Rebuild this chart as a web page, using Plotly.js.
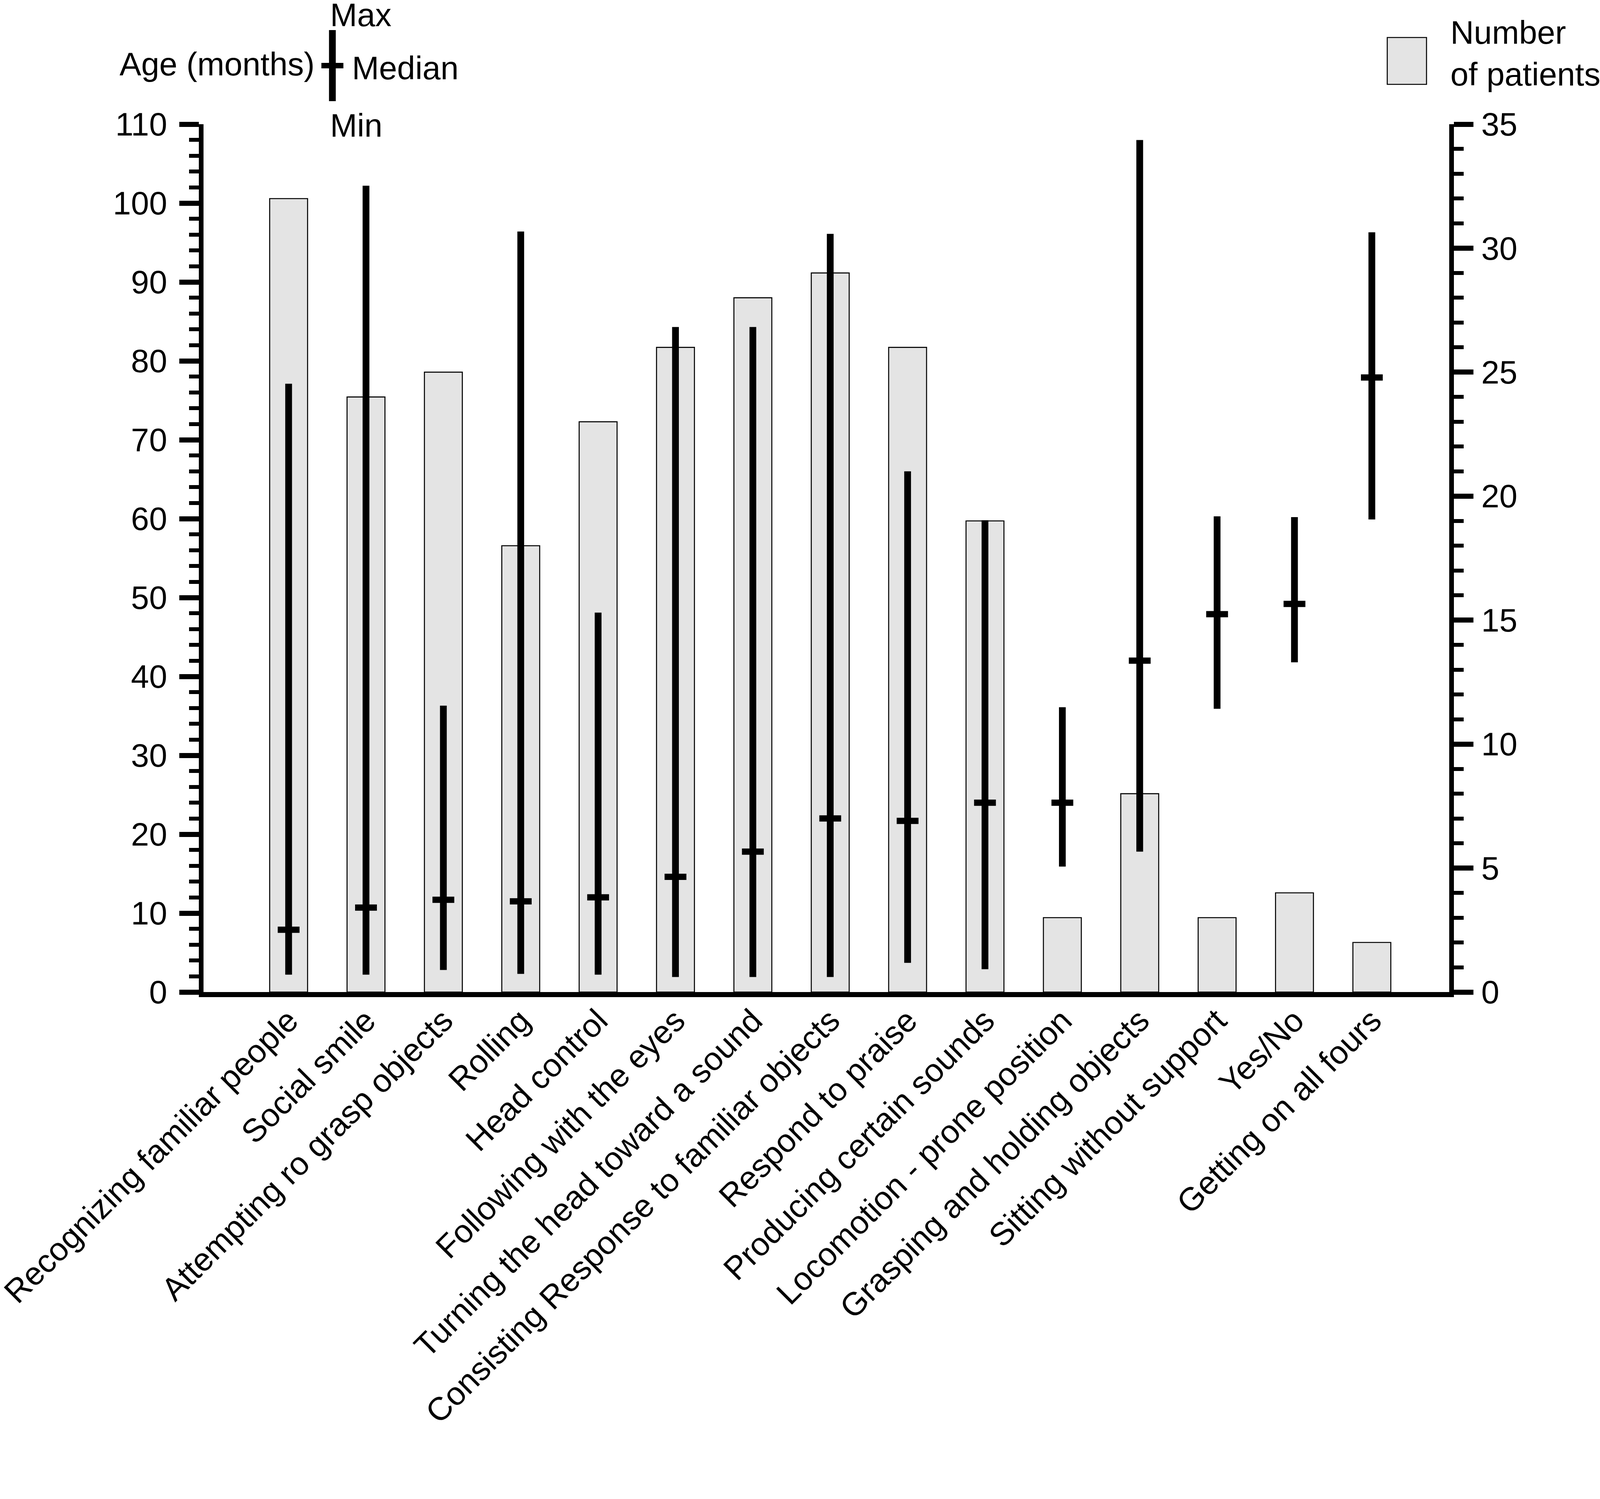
<!DOCTYPE html>
<html>
<head>
<meta charset="utf-8">
<script src="https://cdn.plot.ly/plotly-3.0.1.min.js"></script>
<style>
  html, body { margin: 0; padding: 0; background: #fff; overflow: hidden; }
</style>
</head>
<body>
<div id="chart"></div>
<script>
// milestones on the x axis
var categories = [
  "Recognizing familiar people",
  "Social smile",
  "Attempting ro grasp objects",
  "Rolling",
  "Head control",
  "Following with the eyes",
  "Turning the head toward a sound",
  "Consisting Response to familiar objects",
  "Respond to praise",
  "Producing certain sounds",
  "Locomotion - prone position",
  "Grasping and holding objects",
  "Sitting without support",
  "Yes/No",
  "Getting on all fours"
];

// number of patients (right axis)
var patients = [32, 24, 25, 18, 23, 26, 28, 29, 26, 19, 3, 8, 3, 4, 2];

// age in months (left axis)
var ageMin    = [2.2, 2.2, 2.8, 2.3, 2.2, 1.9, 1.9, 1.9, 3.7, 2.9, 15.9, 17.8, 35.9, 41.8, 59.9];
var ageMedian = [7.9, 10.7, 11.7, 11.5, 12.0, 14.6, 17.8, 22.0, 21.7, 24.0, 24.0, 42.0, 47.9, 49.2, 77.9];
var ageMax    = [77.1, 102.2, 36.3, 96.4, 48.1, 84.3, 84.3, 96.1, 66.0, 59.8, 36.1, 108.0, 60.3, 60.2, 96.3];

var ageTicks = [0, 10, 20, 30, 40, 50, 60, 70, 80, 90, 100, 110];
var patientTicks = [0, 5, 10, 15, 20, 25, 30, 35];

// laid out for a 4724 x 3838 canvas, then stretched to whatever the window is
var sx = window.innerWidth / 4724;
var sy = window.innerHeight / 3838;
var sf = Math.min(sx, sy);          // fonts
function X(v) { return v * sx; }
function Y(v) { return v * sy; }

// plot area in (unscaled) pixels, used to place the hand made legend
var L = 601, R = 4279, T = 318, B = 2540;
function px(x) { return (x - L) / (R - L); }
function py(y) { return (B - y) / (B - T); }

var upper = ageMax.map(function (v, i) { return v - ageMedian[i]; });
var lower = ageMedian.map(function (v, i) { return v - ageMin[i]; });

var fontFam = "Liberation Sans, Arial, sans-serif";
var fs = 96 * sf;

var bars = {
  type: 'bar',
  x: categories,
  y: patients,
  yaxis: 'y',
  marker: { color: '#e4e4e4', line: { color: 'black', width: 3 * sf } },
  showlegend: false,
  hoverinfo: 'x+y'
};

var ages = {
  type: 'scatter',
  mode: 'markers',
  x: categories,
  y: ageMedian,
  yaxis: 'y2',
  marker: { symbol: 'line-ew', size: X(46), color: 'black', line: { color: 'black', width: Y(16) } },
  error_y: {
    type: 'data', symmetric: false,
    array: upper, arrayminus: lower,
    color: 'black', thickness: X(20), width: 0
  },
  showlegend: false
};

var axisStyle = {
  showline: true, linecolor: 'black', linewidth: X(14),
  ticks: 'outside', ticklen: X(58), tickwidth: Y(13), tickcolor: 'black',
  showgrid: false, zeroline: false, automargin: false,
  tickfont: { size: fs, color: 'black', family: fontFam }
};

var layout = {
  width: X(4724),
  height: Y(3838),
  margin: { l: X(L), r: X(4724 - R), t: Y(T), b: Y(3838 - B), pad: 0 },
  paper_bgcolor: 'white',
  plot_bgcolor: 'white',
  font: { family: fontFam, size: fs, color: 'black' },
  bargap: 0.51,
  xaxis: {
    type: 'category', range: [-1.1, 15],
    showline: true, linecolor: 'black', linewidth: Y(13),
    ticks: '', tickangle: -45, showgrid: false, zeroline: false, automargin: false,
    ticklabelstandoff: Math.round(Y(-22)),
    tickfont: { size: fs, color: 'black', family: fontFam }
  },
  yaxis: Object.assign({}, axisStyle, {
    side: 'right', range: [0, 35], tickvals: patientTicks,
    ticklabelstandoff: Math.round(X(4)),
    minor: { tickmode: 'linear', tick0: 0, dtick: 1, ticks: 'outside', ticklen: X(29), tickwidth: Y(10), tickcolor: 'black', showgrid: false }
  }),
  yaxis2: Object.assign({}, axisStyle, {
    side: 'left', overlaying: 'y', range: [0, 110], tickvals: ageTicks,
    ticklabelstandoff: Math.round(X(16)),
    minor: { tickmode: 'linear', tick0: 0, dtick: 2, ticks: 'outside', ticklen: X(29), tickwidth: Y(10), tickcolor: 'black', showgrid: false }
  }),
  shapes: [
    // age legend symbol
    { type: 'line', xref: 'paper', yref: 'paper', x0: px(981.5), x1: px(981.5), y0: py(77), y1: py(259), line: { color: 'black', width: X(20) } },
    { type: 'line', xref: 'paper', yref: 'paper', x0: px(949), x1: px(1014), y0: py(168), y1: py(168), line: { color: 'black', width: Y(14) } },
    // patients legend box
    { type: 'rect', xref: 'paper', yref: 'paper', x0: px(4096), x1: px(4212), y0: py(96), y1: py(216), fillcolor: '#e4e4e4', line: { color: 'black', width: 3 * sf } }
  ],
  annotations: [
    { xref: 'paper', yref: 'paper', x: px(932), y: py(165), xanchor: 'right', yanchor: 'middle', text: 'Age (months)', showarrow: false },
    { xref: 'paper', yref: 'paper', x: px(972), y: py(38), xanchor: 'left', yanchor: 'middle', text: 'Max', showarrow: false },
    { xref: 'paper', yref: 'paper', x: px(1037), y: py(175), xanchor: 'left', yanchor: 'middle', text: 'Median', showarrow: false },
    { xref: 'paper', yref: 'paper', x: px(972), y: py(321), xanchor: 'left', yanchor: 'middle', text: 'Min', showarrow: false },
    { xref: 'paper', yref: 'paper', x: px(4280), y: py(83), xanchor: 'left', yanchor: 'middle', text: 'Number', showarrow: false },
    { xref: 'paper', yref: 'paper', x: px(4280), y: py(191), xanchor: 'left', yanchor: 'middle', text: 'of patients', showarrow: false }
  ]
};

Plotly.newPlot('chart', [bars, ages], layout, { displayModeBar: false, staticPlot: true });
</script>
</body>
</html>
